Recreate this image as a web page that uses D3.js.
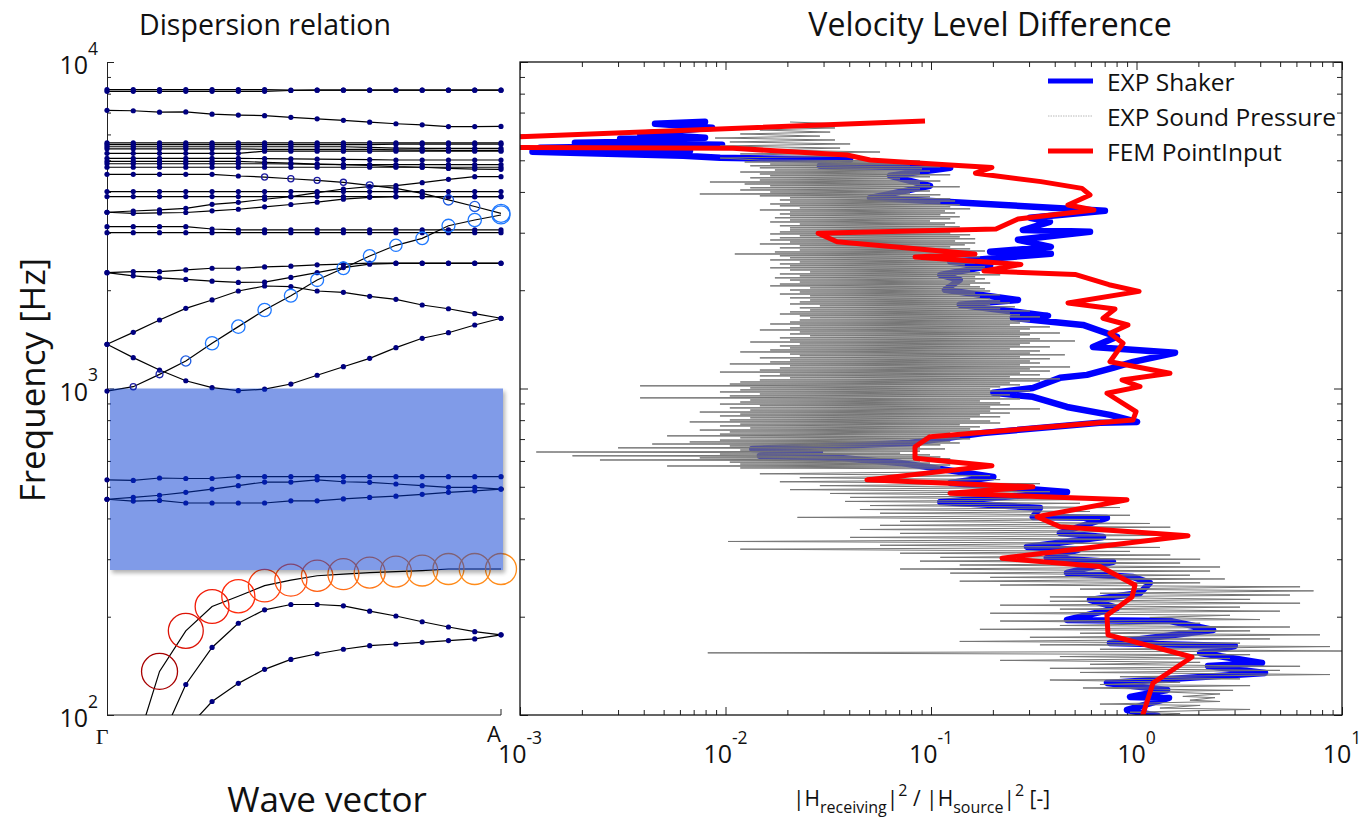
<!DOCTYPE html>
<meta charset="utf-8">
<style>
body{margin:0;background:#fff;}
svg{font-family:"Open Sans","Noto Sans",sans-serif;}
.axis path{stroke:#222;}
.axis line{stroke:#222;}
</style>
<body>
<script src="https://cdn.jsdelivr.net/npm/d3@7"></script>
<script>
// ---------- dispersion relation (left panel) ----------
// frequencies [Hz] at the 16 wave vector points from Gamma to A
var kEnds = ["\u0393", "A"];
var band01 = [8230,8230,8230,8230,8230,8230,8230,8200,8200,8200,8200,8200,8200,8200,8200,8200];
var band02 = [8130,8130,8130,8130,8130,8130,8130,8180,8200,8200,8200,8200,8200,8200,8200,8200];
var band03 = [7110,7090,7020,7030,6920,6880,6850,6770,6700,6630,6540,6470,6420,6340,6340,6350];
var band04 = [5650,5650,5650,5650,5650,5650,5650,5650,5650,5650,5650,5650,5650,5650,5650,5650];
var band05 = [5580,5580,5580,5580,5580,5580,5580,5580,5580,5580,5580,5600,5600,5600,5600,5600];
var band06 = [5500,5500,5500,5500,5500,5500,5500,5500,5500,5500,5480,5450,5440,5440,5440,5440];
var band07 = [5420,5420,5420,5420,5420,5420,5400,5400,5400,5400,5400,5380,5370,5360,5360,5360];
var band08 = [5250,5250,5250,5250,5250,5250,5330,5330,5330,5330,5330,5330,5330,5330,5330,5330];
var band09 = [5070,5070,5070,5070,5070,5070,5060,5050,5040,5030,5020,5010,5010,5010,5010,5010];
var band10 = [4960,4960,4960,4960,4960,4960,4930,4900,4870,4850,4850,4850,4850,4850,4850,4850];
var band11 = [4880,4880,4880,4880,4880,4880,4880,4870,4860,4850,4820,4780,4760,4720,4700,4690];
var band12 = [4760,4760,4760,4760,4760,4760,4760,4760,4760,4760,4760,4760,4760,4760,4760,4760];
var band13 = [4530,4530,4530,4530,4530,4475,4443,4390,4340,4280,4190,4100,3960,3780,3610,3440];
var band14 = [4010,4010,4010,4010,4010,4010,4010,4010,4010,4010,4010,4010,4010,4010,4010,4010];
var band15 = [3870,3870,3870,3870,3870,3870,3870,3870,3870,3870,3870,3870,3870,3870,3870,3870];
var band16 = [3466,3497,3522,3563,3666,3718,3798,3868,3979,4083,4150,4180,4269,4372,4454,4454];
var band17 = [3466,3440,3450,3460,3500,3540,3600,3660,3720,3800,3850,3868,3868,3868,3868,3868];
var band18 = [3131,3131,3131,3131,3080,3060,3060,3060,3060,3060,3060,3060,3060,3060,3060,3060];
var band19 = [3000,3000,3000,3000,3000,3000,3000,3000,3000,3000,3000,3000,3000,3000,3000,3000];
var band20 = [982,1013,1105,1214,1376,1547,1740,1924,2149,2334,2546,2745,2884,3152,3282,3400];
var band21 = [2263,2280,2280,2307,2335,2335,2357,2369,2392,2403,2420,2420,2420,2420,2420,2420];
var band22 = [2263,2214,2183,2158,2132,2113,2117,2189,2263,2346,2403,2417,2417,2417,2417,2417];
var band23 = [1366,1486,1621,1760,1867,1989,2060,2052,1989,1971,1916,1876,1802,1755,1695,1641];
var band24 = [1366,1243,1139,1056,1006,985,995,1032,1098,1166,1237,1334,1425,1482,1565,1641];
var band25 = [525,523,532,530,530,537,537,537,537,537,537,537,537,537,537,537];
var band26 = [458,464,471,481,492,504,517,517,525,518,516,510,504,498,498,492];
var band27 = [458,452,454,446,446,446,446,453,453,459,464,468,474,481,486,492];
var band28 = [null,75,136,181,215,231,249,259,267,270,273,275,277,280,280,280];
var band29 = [null,null,82,124,161,191,210,218,218,216,208,201,193,186,180,176];
var band30 = [null,null,null,90,110,125,138,148,154,159,163,165,167,169,171,176];

// participation of the circled modes (circle size) and their colour mix
var weight13 = [0,0,0,0,0,0,0.17,0.17,0.17,0.17,0.19,0,0,0.28,0.28,0.5];
var weight20 = [0,0.17,0.19,0.28,0.37,0.37,0.37,0.36,0.36,0.35,0.35,0.34,0.35,0.36,0.37,0.5];
var weight28 = [0,1,1,0.97,0.94,0.92,0.9,0.89,0.87,0.86,0.86,0.86,0.86,0.86,0.86,0.86];
var mix28 = [0,0,0,0.3,0.42,0.55,0.65,0.72,0.8,0.86,0.9,0.94,0.97,1,1,1];

var bandGap = [278, 1000];

// ---------- velocity level difference (right panel) ----------
var legendLabels = ["EXP Shaker", "EXP Sound Pressure", "FEM PointInput"];

// EXP Shaker  [frequency Hz, |Hr|^2/|Hs|^2]
var shaker = [[6560,0.00795],[6468,0.00454],[6288,0.0086],[6027,0.00384],[5860,0.00795],[5819,0.00307],
 [5736,0.00752],[5656,0.00185],[5577,0.00962],[5460,0.00125],[5347,0.00672],[5309,0.00115],[5161,0.00622],
 [5089,0.00941],[5017,0.0404],[4809,0.0288],[4742,0.124],[4481,0.0632],[4176,0.0989],[3837,0.0505],
 [3726,0.124],[3501,0.702],[3333,0.303],[3240,0.379],[3058,0.280],[3019,0.594],[2853,0.265],
 [2715,0.383],[2622,0.194],[2585,0.383],[2443,0.124],[2375,0.194],[2229,0.111],[2152,0.138],[2005,0.117],
 [1867,0.265],[1804,0.138],[1669,0.371],[1646,0.250],[1566,0.549],[1440,0.803],[1341,0.614],[1286,1.54],
 [1206,0.962],[1156,0.768],[1101,0.574],[1078,0.424],[1004,0.313],[970,0.201],[943,0.313],[878,0.459],
 [830,0.743],[790,1.006],[785,0.664],[731,0.179],[681,0.079],[653,0.0135],[639.5,0.0288],[621.7,0.0147],
 [613,0.0361],[591.7,0.0707],[536,0.201],[513.8,0.124],[482,0.459],[449.4,0.111],[430.8,0.339],[404.3,0.313],
 [401.4,0.718],[361,0.424],[351,0.687],[327.2,0.293],[320.3,0.519],[302.7,0.366],[294.3,0.768],[272.3,0.459],
 [264.7,0.962],[253.8,1.16],[236.5,1.04],[225.1,0.594],[212.7,0.803],[195.5,0.459],[194,1.46],[182.1,2.36],
 [166.2,0.743],[162.7,3.01],[154.9,2.04],[144.3,4.08],[141.3,2.23],[134.5,4.22],[125.4,0.718],[119.3,1.41],
 [113.6,0.93],[112.8,1.44],[103.6,0.899],[99.3,1.27]];

// EXP Sound Pressure: sparse top and low-frequency parts [Hz, ratio]
var spSparse = [
 [6550,.0206],[6460,.0382],[6370,.0174],[6280,.0341],[6190,.0147],[6100,.0323],[6020,.0118],[5930,.0288],
 [5850,.0089],[5770,.0341],[5690,.0105],[5610,.0404],[5530,.00941],[5450,.0361],[5380,.0147],[5300,.0565],
 [5230,.0118],[5150,.0451],[5080,.00941],
 [556,.138],[548,.0147],[541,.194],[533,.023],[526,.217],[518,.0184],[511,.339],[504,.0288],[497,.271],
 [490,.0206],[483,.379],[477,.0323],[470,.424],[464,.0404],[457,.664],[451,.0382],[445,.531],[438,.0505],
 [432,.831],[426,.0451],[420,.594],[415,.0565],[409,.93],[403,.0224],[397,.664],
 [392,.0707],[386,1.16],[381,.0565],[376,1.46],[370,.0451],[365,1.04],[360,.0707],[355,1.63],[350,.0404],
 [345,1.16],[340,.0103],[336,.831],[331,.0565],[326,1.3],[322,.0118],[317,.93],[313,.0707],[309,1.46],
 [304,.111],[300,2.04],[296,.0884],[292,1.63],[288,.138],[284,2.55],[280,.0707],[276,2.28],[272,.124],
 [268,1.82],[264,.194],[261,2.69],[257,.138],[254,2.04],[250,.217],[247,6.25],[243,.531],[240,7.27],
 [236,.664],[233,5.58],[230,.379],[226,3.57],
 [223,.379],[220,6.25],[217,.217],[214,3.19],[211,.424],[208,4.99],[205,.194],[202,2.85],[199,1.16],
 [196,3.99],[194,.217],[191,2.04],[188,.424],[186,5.58],[183,.173],[181,3.57],[178,.531],[176,7.81],
 [173,.303],[171,4.46],[168,.138],[166,3.19],[164,.339],[162,8.74],[159,.664],[157,11],[155,.0082],
 [153,3.57],[151,.424],[149,2.85],[147,.217],[145,2.04],[143,.594],[141,6.25],[139,.379],[137,4.99],
 [135,.531],[133,8.74],[131,.831],[129,3.19],[128,.379],[126,1.63],[124,.664],[123,3.57],[121,.549],
 [119,2.95],[118,1.16],[116,2.55],[114,1.68],[113,2.41],[111,1.82],[110,2.55],[108,.664],[107,2.04],
 [105,1.3],[104,3.57],[102,.93],[101,1.63],[99.5,1.16]];

// EXP Sound Pressure: dense middle part, frequencies and ratios
var spFreq = [
 5010,4975,4940,4905,4870,4843,4809,4775,4741,4708, 4669,4636,4603,4571,4539,4513,4481,4450,4418,4387,
 4351,4320,4290,4260,4230,4206,4176,4147,4118,4089, 4055,4026,3998,3970,3942,3919,3891,3864,3837,3810,
 3779,3752,3726,3700,3674,3652,3626,3601,3575,3550, 3522,3497,3473,3448,3424,3404,3380,3356,3333,3309,
 3282,3259,3236,3213,3190,3172,3150,3127,3105,3084, 3059,3037,3016,2995,2974,2956,2935,2914,2894,2874,
 2850,2830,2810,2790,2771,2754,2735,2715,2696,2677, 2656,2637,2619,2600,2582,2567,2549,2531,2513,2495,
 2476,2459,2441,2424,2407,2392,2375,2358,2342,2325, 2307,2291,2275,2259,2243,2229,2213,2198,2182,2167,
 2149,2134,2119,2104,2089,2077,2062,2048,2033,2019, 2003,1989,1975,1961,1947,1936,1922,1909,1895,1882,
 1867,1854,1841,1828,1815,1804,1791,1779,1766,1754, 1740,1728,1716,1703,1691,1681,1669,1657,1646,1634,
 1621,1610,1598,1587,1576,1566,1555,1544,1533,1522, 1511,1500,1490,1479,1469,1460,1450,1440,1429,1419,
 1408,1398,1388,1378,1369,1360,1350,1341,1331,1322, 1312,1303,1294,1284,1275,1268,1259,1250,1241,1233,
 1223,1214,1206,1197,1189,1181,1173,1164,1156,1148, 1139,1131,1123,1115,1107,1101,1093,1086,1078,1070,
 1062,1055,1047,1040,1032,1026,1019,1012,1004,997, 990,983,976,969,962,956,949,943,936,929,
 922,916,909,903,896,891,885,878,872,866, 859,853,847,841,835,830,824,819,813,807,
 801,795,790,784,778,774,768,763,757,752, 746,741,736,731,725,721,716,711,706,701,
 695,690,686,681,676,672,667,662,658,653, 648,643,639,634,630,626,622,617,613,609,
 604,600,595,591,587,583,579,575,571,567];
var spVal = [
 .0147,.0884,.0124,.0989,.0165,.079,.0132,.111,.0147,.0904, .0174,.0989,.0118,.0884,.0147,.124,.0165,.0989,.0132,.0707,
 .0147,.111,.0084,.0884,.0124,.0989,.0165,.138,.0132,.0884, .0118,.0989,.0165,.079,.0075,.111,.0147,.0989,.0206,.124,
 .0184,.131,.0206,.111,.0165,.138,.0184,.124,.023,.155, .0147,.117,.0206,.131,.0184,.111,.0206,.138,.0174,.124,
 .0206,.0989,.0165,.131,.023,.117,.0184,.138,.0206,.124, .0206,.146,.0184,.124,.0165,.155,.023,.138,.0184,.164,
 .0165,.131,.0206,.164,.0147,.146,.023,.124,.0184,.155, .023,.183,.0174,.164,.0111,.146,.0184,.173,.0206,.138,
 .0165,.194,.023,.164,.0184,.146,.0206,.183,.0165,.194, .0206,.155,.0258,.173,.0184,.217,.023,.164,.0174,.183,
 .0206,.164,.023,.194,.0184,.155,.0165,.173,.0258,.183, .0206,.194,.023,.164,.0184,.217,.0258,.173,.0206,.194,
 .0258,.217,.023,.242,.0206,.194,.0288,.256,.023,.217, .0258,.303,.0206,.242,.0184,.271,.023,.339,.0258,.242,
 .023,.303,.0206,.271,.0165,.242,.023,.379,.0206,.303, .0147,.271,.023,.424,.0206,.303,.0258,.271,.0184,.339,
 .0206,.502,.0132,.303,.023,.271,.0184,.379,.0206,.242, .0165,.339,.0118,.303,.0206,.448,.023,.271,.0147,.379,
 .0206,.303,.0165,.339,.0105,.271,.0206,.475,.0184,.303, .0147,.379,.0094,.271,.0184,.339,.0147,.242,.0206,.424,
 .0147,.339,.0118,.242,.0105,.271,.00384,.217,.0132,.194, .0118,.303,.0094,.194,.0147,.242,.0105,.217,.00384,.271,
 .0132,.173,.0118,.217,.0094,.242,.0147,.194,.0105,.339, .0132,.194,.0075,.242,.0118,.173,.0094,.217,.0132,.155,
 .0105,.194,.0067,.217,.0118,.138,.0094,.173,.0132,.155, .0075,.194,.0105,.124,.0094,.0989,.0052,.138,.0118,.155,
 .0094,.124,.0067,.138,.0044,.111,.0105,.0884,.003,.117, .0118,.0884,.0012,.0707,.0094,.0989,.0018,.111,.0075,.124,
 .00245,.0884,.0105,.0989,.0118,.124,.0052,.111,.0118,.138];

var soundPressure = spSparse.concat(d3.zip(spFreq, spVal))
  .sort(function(a, b){ return b[0] - a[0]; });

// FEM PointInput
var fem = [[6596,0.0935],[5873,0.0008],[5472,0.0008],[5441,0.01088],[5190,0.039],[5010,0.0505],[4837,0.1237],
 [4756,0.198],[4564,0.1646],[4302,0.343],[4101,0.543],[3914,0.594],[3648,0.464],[3522,0.621],[3305,0.265],
 [3080,0.207],[2988,0.0282],[2816,0.0349],[2582,0.1637],[2528,0.0836],[2399,0.274],[2290,0.181],[2235,0.502],
 [2079,0.735],[1984,1.029],[1828,0.464],[1752,0.786],[1641,0.687],[1565,0.909],[1476,0.743],[1376,0.86],
 [1208,0.743],[1113,1.455],[1062,0.85],[1013,1.04],[967,0.718],[849,0.995],[801,0.962],[712,0.099],
 [663,0.0836],[611,0.0836],[580,0.198],[525,0.0488],[500,0.3136],[478,0.1237],[456,0.899],[405,0.328],
 [377,0.4243],[354,1.781],[302,0.2215],[285,0.6644],[250,0.983],[230,0.951],[202,0.718],[176,0.727],
 [150.5,1.862],[125.3,1.203],[99.5,1.07]];

// ---------- layout ----------
var svg = d3.select("body").append("svg").attr("width", 1363).attr("height", 828);
var defs = svg.append("defs");
defs.append("clipPath").attr("id", "clipL").append("rect")
  .attr("x", 100).attr("y", 55).attr("width", 420).attr("height", 660);
defs.append("clipPath").attr("id", "clipR").append("rect")
  .attr("x", 520).attr("y", 62).attr("width", 822).attr("height", 653);
defs.append("filter").attr("id", "blur").append("feGaussianBlur").attr("stdDeviation", 2.2);

var yF = d3.scaleLog().domain([100, 10000]).range([715, 62]);
var xK = d3.scaleLinear().domain([0, 15]).range([107, 501]);
var xR = d3.scaleLog().domain([1e-3, 10]).range([520, 1342]);

var majorF = [100, 1000, 10000];
var minorF = yF.ticks().filter(function(d){ return majorF.indexOf(d) < 0; });
var majorV = [1e-3, 1e-2, 1e-1, 1, 10];
var minorV = xR.ticks().filter(function(d){ return majorV.indexOf(d) < 0; });

function powLabel(g, x, y, base, exp, anchor, size){
  var t = g.append("text").attr("x", x).attr("y", y).attr("text-anchor", anchor)
    .attr("font-size", size).attr("fill", "#111");
  t.append("tspan").text(base);
  t.append("tspan").attr("font-size", size*0.7).attr("dy", -size*0.78).text(exp);
}

// titles
svg.append("text").attr("x", 265).attr("y", 35).attr("text-anchor", "middle")
  .attr("font-size", 28.5).attr("fill", "#111").text("Dispersion relation");
svg.append("text").attr("x", 990).attr("y", 36).attr("text-anchor", "middle")
  .attr("font-size", 32).attr("fill", "#111").text("Velocity Level Difference");
svg.append("text").attr("transform", "translate(45,380) rotate(-90)").attr("text-anchor", "middle")
  .attr("font-size", 35).attr("fill", "#111").text("Frequency [Hz]");
svg.append("text").attr("x", 327).attr("y", 812).attr("text-anchor", "middle")
  .attr("font-size", 35).attr("fill", "#111").text("Wave vector");

// ---------- left panel ----------
var gL = svg.append("g");
gL.append("g").attr("class", "axis").attr("transform", "translate(107,0)")
  .call(d3.axisLeft(yF).tickValues(minorF).tickSize(-4).tickSizeOuter(0).tickFormat(""));
gL.append("g").attr("class", "axis").attr("transform", "translate(107,0)")
  .call(d3.axisLeft(yF).tickValues(majorF).tickSize(-7).tickSizeOuter(0).tickFormat(""))
  .select(".domain").remove();
gL.append("line").attr("x1", 107).attr("x2", xK(15)).attr("y1", 715).attr("y2", 715)
  .attr("stroke", "#222");
gL.append("line").attr("x1", xK(15)).attr("x2", xK(15)).attr("y1", 715).attr("y2", 709)
  .attr("stroke", "#222");
majorF.forEach(function(d){
  powLabel(gL, 98, yF(d) + 12, "10", String(Math.round(Math.log10(d))), "end", 25);
});
gL.append("text").attr("x", xK(0) - 5).attr("y", 744).attr("text-anchor", "middle")
  .attr("font-family", "Liberation Serif, serif").attr("font-size", 22).attr("fill", "#111").text(kEnds[0]);
gL.append("text").attr("x", xK(15) - 7).attr("y", 742).attr("text-anchor", "middle")
  .attr("font-size", 22).attr("fill", "#111").text(kEnds[1]);

var bands = [band01,band02,band03,band04,band05,band06,band07,band08,band09,band10,band11,band12,band13,
  band14,band15,band16,band17,band18,band19,band20,band21,band22,band23,band24,band25,band26,band27,
  band28,band29,band30];
var weights = {12: weight13, 19: weight20, 27: weight28};

var plotL = gL.append("g").attr("clip-path", "url(#clipL)");
var line = d3.line().defined(function(d){ return d != null; })
  .x(function(d, i){ return xK(i); }).y(function(d){ return yF(d); });

plotL.selectAll("path.band").data(bands).enter().append("path").attr("class", "band")
  .attr("d", line).attr("fill", "none").attr("stroke", "#000").attr("stroke-width", 1.2);

var dots = [];
bands.forEach(function(b, j){
  b.forEach(function(v, i){
    var w = weights[j] ? weights[j][i] : 0;
    if (v != null && !w) dots.push({k: i, f: v});
  });
});
plotL.selectAll("circle.dot").data(dots).enter().append("circle").attr("class", "dot")
  .attr("cx", function(d){ return xK(d.k); }).attr("cy", function(d){ return yF(d.f); })
  .attr("r", 2.6).attr("fill", "#000080");

var blueMode = d3.scaleLinear().domain([0.17, 0.33]).range(["#1a1aa0", "#1e78ff"]).clamp(true);
var redMode = d3.piecewise(d3.interpolateRgb, ["#a80000", "#ff200a", "#ff8c1a"]);
var rings = [];
[12, 19, 27].forEach(function(j){
  bands[j].forEach(function(v, i){
    var w = weights[j][i];
    if (v != null && w) rings.push({k: i, f: v, w: w,
      c: j == 27 ? redMode(mix28[i]) : blueMode(w)});
  });
});
plotL.selectAll("circle.ring").data(rings).enter().append("circle").attr("class", "ring")
  .attr("cx", function(d){ return xK(d.k); }).attr("cy", function(d){ return yF(d.f); })
  .attr("r", function(d){ return d.w * 18; }).attr("fill", "none")
  .attr("stroke", function(d){ return d.c; }).attr("stroke-width", 1.3);

// band gap box with soft shadow
var gx0 = xK(0) + 3, gx1 = xK(15) + 2;
var mask = defs.append("mask").attr("id", "gapMask");
mask.append("rect").attr("x", 0).attr("y", 0).attr("width", 1363).attr("height", 828).attr("fill", "#fff");
mask.append("rect").attr("x", gx0).attr("y", yF(bandGap[1])).attr("width", gx1 - gx0)
  .attr("height", yF(bandGap[0]) - yF(bandGap[1])).attr("fill", "#000");
gL.append("rect").attr("mask", "url(#gapMask)").attr("filter", "url(#blur)")
  .attr("x", gx0 + 2).attr("y", yF(bandGap[1]) + 3).attr("width", gx1 - gx0)
  .attr("height", yF(bandGap[0]) - yF(bandGap[1])).attr("fill", "#000").attr("opacity", 0.3);
gL.append("rect").attr("x", gx0).attr("y", yF(bandGap[1])).attr("width", gx1 - gx0)
  .attr("height", yF(bandGap[0]) - yF(bandGap[1]))
  .attr("fill", "rgb(1,55,209)").attr("fill-opacity", 0.5);

// ---------- right panel ----------
var gR = svg.append("g");
function inward(axisFn, scale, vals, size, tr){
  gR.append("g").attr("class", "axis").attr("transform", tr)
    .call(axisFn(scale).tickValues(vals).tickSize(-size).tickSizeOuter(0).tickFormat(""))
    .select(".domain").remove();
}
inward(d3.axisLeft, yF, minorF, 5, "translate(520,0)");
inward(d3.axisLeft, yF, majorF, 8, "translate(520,0)");
inward(d3.axisRight, yF, minorF, 5, "translate(1342,0)");
inward(d3.axisRight, yF, majorF, 8, "translate(1342,0)");
inward(d3.axisBottom, xR, minorV, 5, "translate(0,715)");
inward(d3.axisBottom, xR, majorV, 8, "translate(0,715)");
inward(d3.axisTop, xR, minorV, 5, "translate(0,62)");
inward(d3.axisTop, xR, majorV, 8, "translate(0,62)");

majorV.forEach(function(d){
  powLabel(gR, xR(d), 763, "10", String(Math.round(Math.log10(d))), "middle", 25);
});

var plotR = gR.append("g").attr("clip-path", "url(#clipR)");
var lineR = d3.line().x(function(d){ return xR(d[1]); }).y(function(d){ return yF(d[0]); });
plotR.append("path").attr("d", lineR(shaker)).attr("fill", "none").attr("stroke", "#0000ff")
  .attr("stroke-width", 6.5).attr("stroke-linejoin", "round").attr("stroke-linecap", "round");
plotR.append("path").attr("d", lineR(soundPressure)).attr("fill", "none").attr("stroke", "#767676")
  .attr("stroke-width", 1);
plotR.append("path").attr("d", lineR(fem)).attr("fill", "none").attr("stroke", "#ff0000")
  .attr("stroke-width", 5).attr("stroke-linejoin", "round");

gR.append("rect").attr("x", 520).attr("y", 62).attr("width", 822).attr("height", 653)
  .attr("fill", "none").attr("stroke", "#111").attr("stroke-width", 1.3);

// legend
var legStyle = [{c: "#0000ff", w: 5, d: null}, {c: "#b8b8b8", w: 1, d: "1.5,1"}, {c: "#ff0000", w: 5, d: null}];
var leg = gR.append("g");
legendLabels.forEach(function(s, i){
  var y = 81 + i * 35;
  leg.append("line").attr("x1", 1048).attr("x2", 1093).attr("y1", y).attr("y2", y)
    .attr("stroke", legStyle[i].c).attr("stroke-width", legStyle[i].w)
    .attr("stroke-dasharray", legStyle[i].d);
  leg.append("text").attr("x", 1107).attr("y", y + 10).attr("font-size", 24.5).attr("fill", "#111").text(s);
});

// x label of right panel
var xl = gR.append("text").attr("x", 793).attr("y", 806).attr("font-size", 21).attr("fill", "#111");
xl.append("tspan").text("|H");
xl.append("tspan").attr("font-size", 16).attr("dy", 7).text("receiving");
xl.append("tspan").attr("dy", -7).text("|");
xl.append("tspan").attr("font-size", 16).attr("dy", -10).text("2");
xl.append("tspan").attr("dy", 10).text(" / |H");
xl.append("tspan").attr("font-size", 16).attr("dy", 7).text("source");
xl.append("tspan").attr("dy", -7).text("|");
xl.append("tspan").attr("font-size", 16).attr("dy", -10).text("2");
xl.append("tspan").attr("dy", 10).text("  [-]");
</script>
</body>
